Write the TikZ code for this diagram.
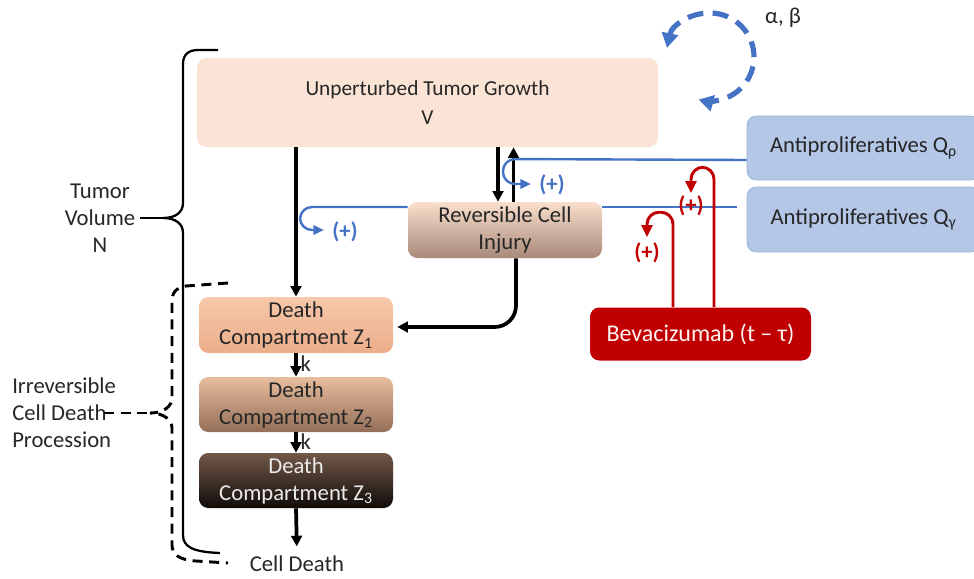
\documentclass[tikz,border=0pt]{standalone}
\usepackage{fontspec}
\setmainfont{Carlito}
\usetikzlibrary{arrows.meta,calc}
\definecolor{peach}{HTML}{FBE4D6}
\definecolor{qfill}{HTML}{B4C7E7}
\definecolor{qdraw}{HTML}{9DB3DA}
\definecolor{bluel}{HTML}{4472C4}
\definecolor{redl}{HTML}{C00000}
\definecolor{txt}{HTML}{262626}
\definecolor{revtop}{HTML}{FADFCC}
\definecolor{revbot}{HTML}{A8897A}
\definecolor{zatop}{HTML}{F7C8AA}
\definecolor{zabot}{HTML}{EBAE8A}
\definecolor{zbtop}{HTML}{E8BD9E}
\definecolor{zbbot}{HTML}{946E58}
\definecolor{zctop}{HTML}{725848}
\definecolor{zcbot}{HTML}{100B09}
\newcommand{\fs}{\fontsize{17}{20.25}\selectfont}
\newcommand{\fsu}{\fontsize{16}{21.75}\selectfont}
\begin{document}
\begin{tikzpicture}[x=0.75pt,y=-0.75pt,
  box/.style={rounded corners=7pt, align=center, inner sep=0pt, font=\fs, text=txt},
  bbox/.style={box, fill=qfill, draw=qdraw, line width=0.6pt, minimum width=174.75pt},
  zbox/.style={box, minimum width=145.5pt, minimum height=42pt},
  lbl/.style={font=\fs, text=txt, inner sep=0pt},
  blk/.style={line width=2.8pt, draw=black, -{Triangle[length=8pt,width=8pt]}},
  bhook/.style={line width=1.8pt, draw=bluel, rounded corners=9pt, -{Triangle[length=8pt,width=7pt]}},
  rhook/.style={line width=2.2pt, draw=redl, rounded corners=9pt, -{Triangle[length=9pt,width=8pt]}},
  plusb/.style={font=\fs\bfseries, text=bluel, inner sep=0pt},
  plusr/.style={font=\fs\bfseries, text=redl, inner sep=0pt},
  brace/.style={line width=1.7pt, draw=black},
  dbrace/.style={line width=2.2pt, draw=black, dash pattern=on 7.5pt off 5pt}]
\path[use as bounding box] (0,0) rectangle (974,578);
\clip (0,0) rectangle (974,578);

% nodes
\node[box, font=\fsu, fill=peach, minimum width=345.75pt, minimum height=66.75pt] (unp) at (427.5,102.5) {Unperturbed Tumor Growth\\V};
\node[bbox, minimum height=48pt] (qp) at (863.5,148) {Antiproliferatives Q\textsubscript{ρ}};
\node[bbox, minimum height=48.75pt] (qg) at (863.5,219.5) {Antiproliferatives Q\textsubscript{γ}};
\node[zbox, top color=revtop, bottom color=revbot] (rev) at (505,230) {Reversible Cell\\Injury};
\node[zbox, top color=zatop, bottom color=zabot] (z1) at (296,325) {Death\\Compartment Z\textsubscript{1}};
\node[zbox, top color=zbtop, bottom color=zbbot, minimum height=41.25pt] (z2) at (296,404.5) {Death\\Compartment Z\textsubscript{2}};
\node[zbox, top color=zctop, bottom color=zcbot, minimum height=41.25pt, text=white!92!black] (z3) at (296,480.5) {Death\\Compartment Z\textsubscript{3}};
\node[box, fill=redl, minimum width=165.75pt, minimum height=39.75pt, text=white!95!red, font=\fontsize{18}{21}\selectfont] (bev) at (700.5,334) {Bevacizumab (t – τ)};
\node[lbl] (cd) at (297,564) {Cell Death};
\node[lbl] (ab) at (783,18) {α, β};
\node[lbl, align=center] (tv) at (100,218) {Tumor\\Volume\\N};
\node[lbl, align=left, anchor=west] (irr) at (12,413) {Irreversible\\Cell Death\\Procession};

% growth cycle
\coordinate (cyc) at (710,57);
\draw[line width=3.9pt, draw=bluel, dash pattern=on 12pt off 7pt,
  {Triangle[length=11pt,width=12pt]}-{Triangle[length=11pt,width=12pt]}]
  ($(cyc)+(192:44)$) arc[start angle=192, end angle=465, radius=44];

% black arrows
\draw[blk] (unp.south -| z1.north) -- (z1.north);
\draw[blk] ($(unp.south)+(70.5,0)$) -- ($(rev.north)+(-7,0)$);
\draw[blk] ($(rev.north)+(8.5,0)$) -- ($(unp.south)+(86,0)$);
\draw[blk, rounded corners=16pt] ($(rev.south)+(11,0)$) |- ($(z1.east)+(4,2)$);
\draw[blk] (z1.south) -- node[right, lbl, xshift=2pt, yshift=1pt] {k} (z2.north);
\draw[blk] (z2.south) -- node[right, lbl, xshift=2pt, yshift=1pt] {k} (z3.north);
\draw[blk, shorten >=7pt] (z3.south) -- (cd.north);

% blue antiproliferative lines
\coordinate (qpl) at ($(qp.west)+(0,12)$);
\draw[bhook] (qpl) -- (503,159) -- (503,184) -- (531,184);
\node[plusb] at (552,185) {(+)};
\coordinate (qgl) at ($(qg.west)+(-10,-12.5)$);
\draw[line width=1.8pt, draw=bluel] (qgl) -- (qgl -| rev.east);
\draw[bhook] (qgl -| rev.west) -- (300,207) -- (300,230) -- (324,230);
\node[plusb] at (345,232) {(+)};

% red bevacizumab loops
\draw[rhook] ($(bev.north)+(-27.5,0)$) -- ++(0,-95) -- ++(-26,0) -- ++(0,25);
\draw[rhook] ($(bev.north)+(13.5,0)$) -- ++(0,-140) -- ++(-23,0) -- ++(0,26);
\node[plusr] at (647,253) {(+)};
\node[plusr] at (691,206) {(+)};

% tumor volume brace
\coordinate (tvtip) at (163,218);
\draw[brace] (218,50) -- (198,50) .. controls (188,50) and (183,55) .. (183,64)
  -- (183,203) .. controls (183,212) and (176,218) .. (tvtip)
  .. controls (176,218) and (183,224) .. (183,233)
  -- (183,535) .. controls (183,547) and (193,552) .. (220,553);
\draw[brace] ($(tv.east)+(5,0)$) -- (tvtip);

% irreversible dashed brace
\coordinate (irtip) at (150,413);
\coordinate (irend) at (104,413);
\draw[dbrace] (228,283) -- (186,286) .. controls (176,288) and (172,292) .. (172,302)
  -- (172,398) .. controls (172,406) and (164,413) .. (irtip)
  .. controls (164,413) and (172,420) .. (172,428)
  -- (172,545) .. controls (172,555) and (180,560) .. (196,561) -- (228,563);
\draw[dbrace] (irend) -- (irtip);
\end{tikzpicture}
\end{document}
